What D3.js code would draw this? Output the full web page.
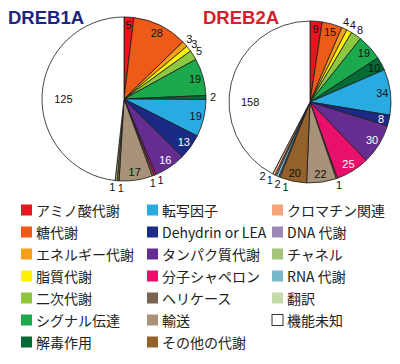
<!DOCTYPE html>
<html>
<head>
<meta charset="utf-8">
<script src="https://cdn.jsdelivr.net/npm/d3@7"></script>
<style>
  body { margin: 0; background: #fff; }
  text { font-family: "Liberation Sans", Arial, sans-serif; }
  .legend text { font-family: "Noto Sans CJK JP", "Noto Sans", sans-serif; }
</style>
</head>
<body>
<div id="chart"></div>
<script>
// Legend categories (column order) and colours
const categories = [
  "アミノ酸代謝", "糖代謝", "エネルギー代謝", "脂質代謝", "二次代謝", "シグナル伝達", "解毒作用",
  "転写因子", "Dehydrin or LEA", "タンパク質代謝", "分子シャペロン", "ヘリケース", "輸送", "その他の代謝",
  "クロマチン関連", "DNA 代謝", "チャネル", "RNA 代謝", "翻訳", "機能未知"
];
const colors = [
  "#e8141e", "#ee5a17", "#f6a01a", "#fff200", "#8dc63f", "#1ba94c", "#046b37",
  "#29abe2", "#1b2a85", "#662d91", "#e8106c", "#7a6451", "#a89279", "#94602b",
  "#f4a67a", "#9b88b9", "#a7c47f", "#79b7cb", "#c6d9a9", "#ffffff"
];

// Slices, clockwise from 12 o'clock
const dreb1aCats = ["アミノ酸代謝", "糖代謝", "エネルギー代謝", "脂質代謝", "二次代謝", "シグナル伝達", "解毒作用",
  "転写因子", "Dehydrin or LEA", "タンパク質代謝", "分子シャペロン", "ヘリケース", "輸送", "その他の代謝", "チャネル", "機能未知"];
const dreb1aValues = [5, 28, 3, 3, 5, 19, 2, 19, 13, 16, 1, 1, 17, 1, 1, 125];
const dreb1aOutside = ["エネルギー代謝", "脂質代謝", "二次代謝", "解毒作用", "分子シャペロン", "ヘリケース", "その他の代謝", "チャネル"];

const dreb2aCats = ["アミノ酸代謝", "糖代謝", "エネルギー代謝", "脂質代謝", "二次代謝", "シグナル伝達", "解毒作用",
  "転写因子", "Dehydrin or LEA", "タンパク質代謝", "分子シャペロン", "ヘリケース", "輸送", "その他の代謝",
  "DNA 代謝", "RNA 代謝", "翻訳", "クロマチン関連", "機能未知"];
const dreb2aValues = [9, 15, 4, 4, 8, 19, 10, 34, 8, 30, 25, 1, 22, 20, 1, 2, 1, 2, 158];
const dreb2aOutside = ["エネルギー代謝", "脂質代謝", "二次代謝", "ヘリケース", "DNA 代謝", "RNA 代謝", "翻訳", "クロマチン関連"];

const whiteLabels = ["Dehydrin or LEA", "タンパク質代謝", "分子シャペロン"];

const width = 400, height = 364;
const svg = d3.select("#chart").append("svg")
  .attr("width", width).attr("height", height);

const color = d3.scaleOrdinal().domain(categories).range(colors);

function drawPie(cx, cy, r, cats, values, outside, title, titleColor, titleX) {
  svg.append("text")
    .attr("x", titleX).attr("y", 24)
    .attr("fill", titleColor)
    .style("font-size", "18.5px").style("font-weight", "bold")
    .text(title);

  const data = cats.map((c, i) => ({ cat: c, value: values[i] }));
  const arcs = d3.pie().sort(null).value(d => d.value)(data);
  const arc = d3.arc().innerRadius(0).outerRadius(r);
  const g = svg.append("g").attr("transform", `translate(${cx},${cy})`);

  g.selectAll("path").data(arcs).enter().append("path")
    .attr("d", arc)
    .attr("fill", d => color(d.data.cat))
    .attr("stroke", "#1a1a1a")
    .attr("stroke-width", 0.8)
    .attr("stroke-linejoin", "round");

  const maxV = d3.max(values);
  // label positions; the big "unknown" label sits straight left of centre
  const labels = arcs.map(d => {
    const out = outside.includes(d.data.cat);
    const big = d.data.value === maxV;
    const rr = out ? r + 7 : (big ? r * 0.74 : r * 0.9);
    const a = big ? -Math.PI / 2 : (d.startAngle + d.endAngle) / 2;
    return { d, out, rr, a, a0: a };
  });

  // spread out tiny outside labels so they don't overlap (merge groups until stable)
  const outs = labels.filter(l => l.out);
  const minGap = 8.5 / (r + 7);
  let groups = [];
  for (let iter = 0; iter < 10; iter++) {
    groups = [];
    outs.forEach(l => {
      const last = groups[groups.length - 1];
      if (last && l.a - last[last.length - 1].a < minGap - 1e-6) last.push(l);
      else groups.push([l]);
    });
    let moved = false;
    groups.forEach(gr => {
      if (gr.length < 2) return;
      const mid = d3.mean(gr, l => l.a0);
      gr.forEach((l, i) => { l.a = mid + (i - (gr.length - 1) / 2) * minGap; });
      moved = true;
    });
    if (!moved) break;
  }
  groups.forEach(gr => {
    if (gr.length < 4) return;
    // two rows of pairs
    const mid = d3.mean(gr, l => l.a0);
    gr.forEach((l, i) => {
      const row = Math.floor(i / 2);
      l.rr = r + 15 - row * 12;
      l.a = mid + ((i % 2) - 0.5) * (7.5 / l.rr);
    });
  });

  g.selectAll("text.v").data(labels).enter().append("text")
    .attr("class", "v")
    .attr("x", l => Math.sin(l.a) * l.rr)
    .attr("y", l => -Math.cos(l.a) * l.rr)
    .attr("text-anchor", "middle")
    .attr("dominant-baseline", "central")
    .attr("fill", l => (!l.out && whiteLabels.includes(l.d.data.cat)) ? "#fff" : "#111")
    .style("font-size", "11px")
    .text(l => l.d.data.value);
}

drawPie(124, 99, 82, dreb1aCats, dreb1aValues, dreb1aOutside, "DREB1A", "#1c2580", 8);
drawPie(310, 102, 81, dreb2aCats, dreb2aValues, dreb2aOutside, "DREB2A", "#d21f2b", 203);

// Legend: 3 columns of 7 rows
const legend = svg.append("g").attr("class", "legend");
const colX = [21, 147, 272];
const rowY = d3.scaleLinear().domain([0, 6]).range([210, 342]);
categories.forEach((c, i) => {
  const col = Math.floor(i / 7), row = i % 7;
  const x = colX[col], y = rowY(row);
  legend.append("rect")
    .attr("x", x).attr("y", y - 5.5)
    .attr("width", 11).attr("height", 11)
    .attr("fill", color(c))
    .attr("stroke", c === "機能未知" ? "#333" : "none")
    .attr("stroke-width", 1);
  legend.append("text")
    .attr("x", x + 15).attr("y", y)
    .attr("dominant-baseline", "central")
    .attr("fill", "#222")
    .style("font-size", "14px")
    .text(c);
});
</script>
</body>
</html>
